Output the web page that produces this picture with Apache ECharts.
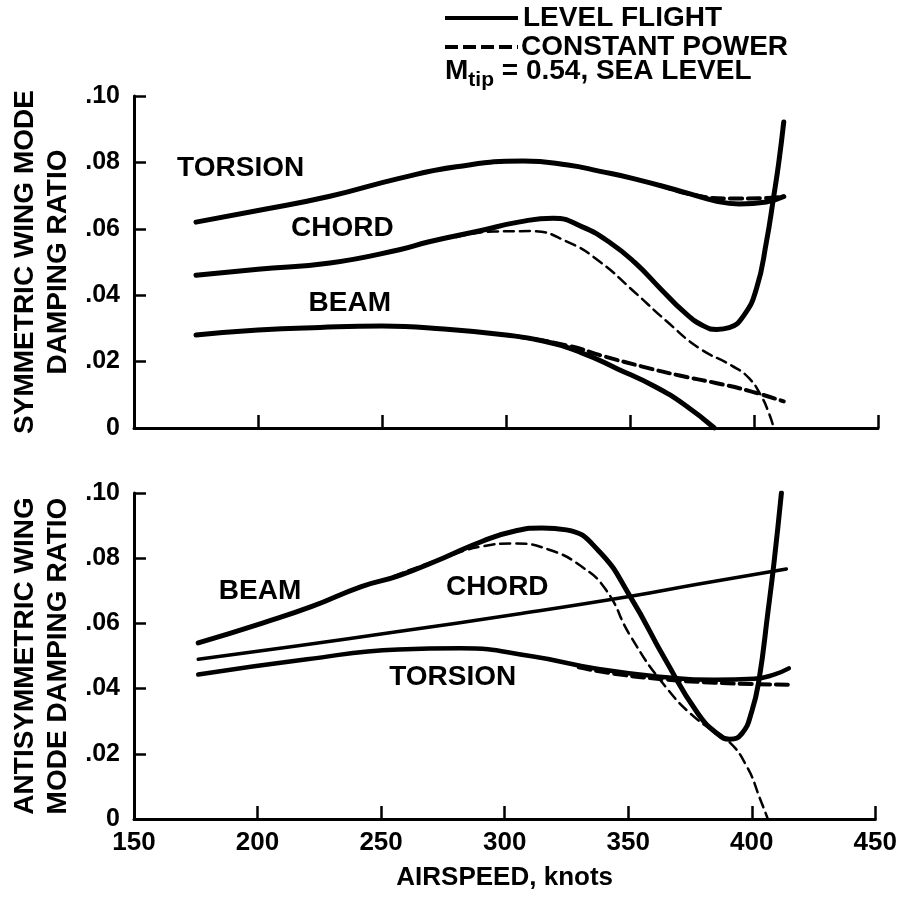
<!DOCTYPE html>
<html><head><meta charset="utf-8">
<script src="https://cdn.jsdelivr.net/npm/echarts/dist/echarts.min.js"></script>
<style>html,body{margin:0;padding:0;background:#fff}#c{width:900px;height:897px}</style>
</head><body><div id="c"></div>
<script>
// ---------- data (airspeed knots, damping ratio) ----------
const xMin = 150, xMax = 450, xStep = 50;
const yMin = 0, yMax = 0.10, yStep = 0.02;

// Symmetric wing modes (top panel)
const symTorsionLevel = [[175,0.062],[200,0.0655],[229,0.0698],[257,0.0752],[280,0.0787],[307,0.0804],[325,0.0792],[338,0.0773],[351,0.0752],[371,0.0712],[385,0.0683],[394,0.0675],[405,0.0681],[412,0.0697]];
const symTorsionPower = [[362,0.0732],[375,0.0703],[391,0.0691],[403,0.0692],[412,0.0697]];
const symChordLevel = [[175,0.046],[200,0.0478],[229,0.0497],[257,0.0537],[269,0.0561],[290,0.0595],[305,0.0620],[319,0.0632],[331,0.0605],[342,0.0558],[352,0.0498],[362,0.0422],[372,0.0348],[380,0.0306],[385,0.0297],[390,0.0302],[396,0.0340],[401,0.0420],[405,0.0560],[408,0.0700],[410,0.0800],[412,0.0922]];
const symChordPower = [[280,0.0575],[295,0.0592],[310,0.0593],[325,0.0560],[338,0.0500],[351,0.0415],[365,0.0320],[378,0.0240],[391,0.0188],[398,0.0150],[403,0.0095],[406,0.0045],[408,0.0]];
const symBeamLevel = [[175,0.028],[200,0.0295],[225,0.0303],[250,0.0307],[275,0.0298],[300,0.0280],[315,0.0262],[330,0.0228],[345,0.0178],[360,0.0125],[372,0.0070],[384,0.0]];
const symBeamPower = [[305,0.0275],[325,0.0248],[340,0.0215],[355,0.0185],[370,0.0158],[385,0.0135],[398,0.0112],[412,0.0080]];

// Antisymmetric wing modes (bottom panel)
const antiBeamLevel = [[176,0.0540],[202,0.0601],[222,0.0652],[242,0.0713],[257,0.0746],[275,0.0800],[291,0.0852],[305,0.0885],[315,0.0893],[325,0.0887],[338,0.0823],[351,0.0680],[365,0.0489],[378,0.0326],[386,0.0262],[391,0.0245],[396,0.0262],[400,0.0330],[403,0.0430],[406.5,0.0632],[409,0.0786],[412,0.1000]];
const antiBeamPower = [[255,0.0745],[275,0.0800],[290,0.0835],[304,0.0845],[318,0.0826],[331,0.0775],[341,0.0703],[351,0.0560],[365,0.0407],[378,0.0305],[390,0.0243],[398,0.0161],[403.5,0.0059],[406.5,0.0]];
const antiChordLevel = [[176,0.0490],[215,0.0530],[257,0.0575],[304,0.0627],[351,0.0683],[378,0.0720],[414,0.0767]];
const antiTorsionLevel = [[176,0.0443],[220,0.0490],[257,0.0520],[282,0.0524],[311,0.0499],[338,0.0460],[365,0.0435],[385,0.0427],[401,0.0430],[409,0.0443],[415,0.0462]];
const antiTorsionPower = [[330,0.0465],[345,0.0445],[365,0.0428],[385,0.0418],[400,0.0414],[415,0.0412]];

// Curve labels [x, y, text]
const symLabels = [[193,0.0783,'TORSION'],[234,0.0602,'CHORD'],[237,0.0377,'BEAM']];
const antiLabels = [[201,0.0697,'BEAM'],[297,0.0710,'CHORD'],[279,0.0434,'TORSION']];

const symTitle = 'SYMMETRIC WING MODE\nDAMPING RATIO';
const antiTitle = 'ANTISYMMETRIC WING\nMODE DAMPING RATIO';
const xTitle = 'AIRSPEED, knots';
const legendSolid = 'LEVEL FLIGHT';
const legendDash = 'CONSTANT POWER';

// ---------- chart ----------
const FONT = "'Liberation Sans', Arial, Helvetica, sans-serif";
const chart = echarts.init(document.getElementById('c'), null, {renderer: 'canvas'});

function yFmt(v){ const n = Math.round(v*100); return n === 0 ? '0' : '.' + String(n).padStart(2,'0'); }

function xAxisCfg(gi, showLabels){
  return {
    type:'value', gridIndex:gi, min:xMin, max:xMax, interval:xStep,
    axisLine:{show:true, onZero:false, lineStyle:{color:'#000', width:3}},
    axisTick:{show:true, inside:true, length:13, lineStyle:{color:'#000', width:2.5}},
    axisLabel:{show:showLabels, color:'#000', fontFamily:FONT, fontWeight:'bold', fontSize:26, margin:11},
    splitLine:{show:false},
    name: showLabels ? xTitle : '', nameLocation:'middle', nameGap:46,
    nameTextStyle:{color:'#000', fontFamily:FONT, fontWeight:'bold', fontSize:26}
  };
}
function yAxisCfg(gi, title){
  return {
    type:'value', gridIndex:gi, min:yMin, max:yMax, interval:yStep,
    axisLine:{show:true, lineStyle:{color:'#000', width:3}},
    axisTick:{show:true, inside:true, length:12, lineStyle:{color:'#000', width:2.5}},
    axisLabel:{color:'#000', fontFamily:FONT, fontWeight:'bold', fontSize:25, margin:14, formatter:yFmt},
    splitLine:{show:false},
    name:title, nameLocation:'middle', nameRotate:90, nameGap:59,
    nameTextStyle:{color:'#000', fontFamily:FONT, fontWeight:'bold', fontSize:28, lineHeight:33, align:'center'}
  };
}

function line(data, gi, width, dash){
  return {
    type:'line', xAxisIndex:gi, yAxisIndex:gi, data:data, showSymbol:false, symbol:'none',
    smooth:0.5, silent:true, animation:false,
    lineStyle:{color:'#000', width:width, type: dash || 'solid', cap:'round', join:'round'}
  };
}
function labels(data, gi){
  return {
    type:'scatter', xAxisIndex:gi, yAxisIndex:gi, data:data, symbolSize:0, silent:true, animation:false,
    itemStyle:{color:'#fff', opacity:1},
    label:{show:true, position:'inside', formatter:p=>p.value[2], color:'#000', textBorderWidth:0,
           opacity:1, fontFamily:FONT, fontWeight:'bold', fontSize:28}
  };
}

const option = {
  backgroundColor:'#fff',
  animation:false,
  grid:[
    {left:134, top:96, width:744, height:332},
    {left:134, top:493, width:744, height:326}
  ],
  xAxis:[xAxisCfg(0,false), xAxisCfg(1,true)],
  yAxis:[yAxisCfg(0,symTitle), yAxisCfg(1,antiTitle)],
  series:[
    line(symTorsionLevel,0,5), line(symTorsionPower,0,4,[12,6]),
    line(symChordLevel,0,5), line(symChordPower,0,2.5,[10,6]),
    line(symBeamLevel,0,5), line(symBeamPower,0,4,[12,6]),
    labels(symLabels,0),
    line(antiBeamLevel,1,5), line(antiBeamPower,1,2.5,[10,6]),
    line(antiChordLevel,1,3.5),
    line(antiTorsionLevel,1,4.5), line(antiTorsionPower,1,4,[12,6]),
    labels(antiLabels,1)
  ],
  graphic:[
    {type:'line', shape:{x1:445,y1:18,x2:518,y2:18}, style:{stroke:'#000', lineWidth:4}},
    {type:'text', left:523, top:4, style:{text:legendSolid, fill:'#000', font:"bold 28px " + FONT}},
    {type:'line', shape:{x1:445,y1:47,x2:518,y2:47}, style:{stroke:'#000', lineWidth:4, lineDash:[13,5]}},
    {type:'text', left:521, top:33, style:{text:legendDash, fill:'#000', font:"bold 28px " + FONT}},
    {type:'text', left:445, top:57, style:{
      text:'{m|M}{s|tip}{m| = 0.54, SEA LEVEL}', fill:'#000',
      rich:{ m:{fontFamily:FONT, fontWeight:'bold', fontSize:28, fill:'#000', verticalAlign:'top', lineHeight:30},
             s:{fontFamily:FONT, fontWeight:'bold', fontSize:21, fill:'#000', verticalAlign:'top', lineHeight:30, padding:[13,0,0,0]} }
    }}
  ]
};
chart.setOption(option);
</script>
</body></html>
